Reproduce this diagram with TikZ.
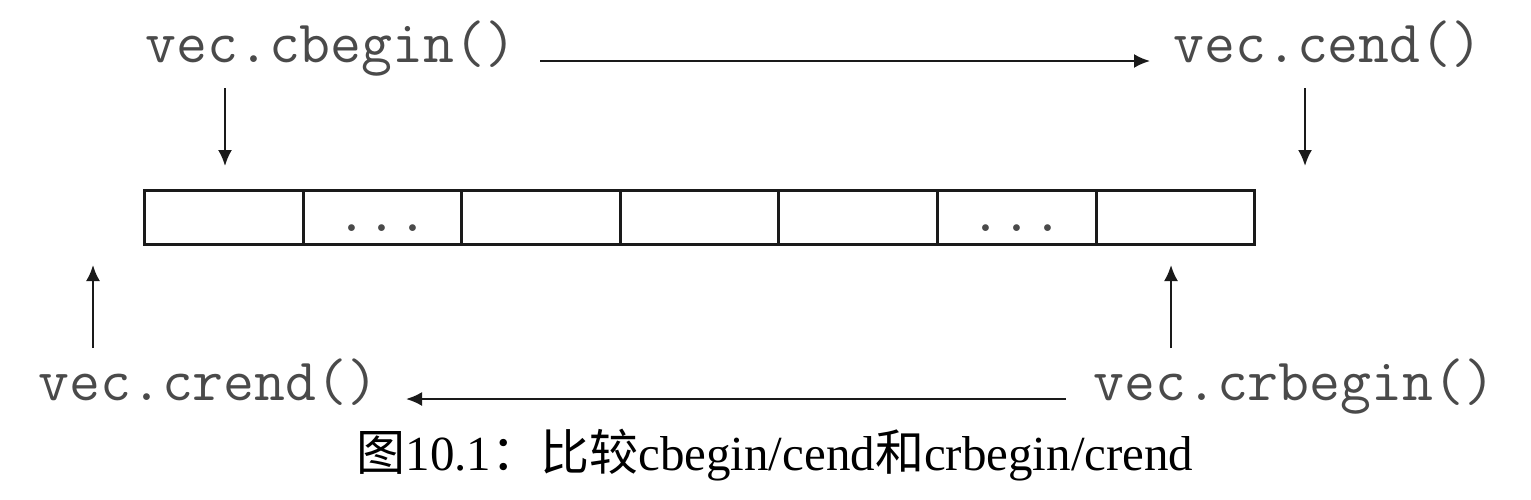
\documentclass[tikz,border=0pt]{standalone}
\usepackage{fontspec}
\setmainfont{Liberation Serif}
\newfontfamily\monof{Latin Modern Mono}
\newfontfamily\cjk{Noto Sans CJK SC}
\usetikzlibrary{arrows.meta}
\definecolor{txtgray}{HTML}{4A4A4A}
\definecolor{linek}{HTML}{1A1A1A}
\begin{document}
\begin{tikzpicture}[x=0.5pt,y=-0.5pt,
  code/.style={font=\monof\fontsize{30pt}{33pt}\selectfont, text=txtgray, inner sep=0pt, anchor=base west},
  cell/.style={draw=linek, line width=1.5pt, minimum width=79.3pt, minimum height=27pt, inner sep=0pt, anchor=north west},
  ptr/.style={draw=linek, line width=1.1pt, -{Latex[length=8pt,width=7pt]}},
  captext/.style={font=\fontsize{24.5pt}{28pt}\selectfont, inner sep=0pt, anchor=base}]
\useasboundingbox (0,0) rectangle (1531,499);
% cells
\foreach \i/\x in {1/143,2/301.6,3/460.2,4/618.8,5/777.4,6/936,7/1094.6}{
  \node[cell] (c\i) at (\x,189) {};
}
\foreach \i in {2,6}{
  \node[code, anchor=base] (d\i) at ([yshift=-7pt]c\i.center) {...};
}
% labels
\node[code] (cb) at (145,62) {vec.cbegin()};
\node[code] (ce) at (1173,62) {vec.cend()};
\node[code] (cre) at (38,400) {vec.crend()};
\node[code] (crb) at (1093,400) {vec.crbegin()};
% arrows
\coordinate (a1s) at (225,88); \coordinate (a1e) at (225,166);
\coordinate (a2s) at (1305,88); \coordinate (a2e) at (1305,166);
\coordinate (a3s) at (93,348); \coordinate (a3e) at (93,265);
\coordinate (a4s) at (1171,348); \coordinate (a4e) at (1171,265);
\coordinate (h1s) at (540,61); \coordinate (h1e) at (1150,61);
\coordinate (h2s) at (1066,399); \coordinate (h2e) at (406,399);
\draw[ptr] (a1s) -- (a1e);
\draw[ptr] (a2s) -- (a2e);
\draw[ptr] (a3s) -- (a3e);
\draw[ptr] (a4s) -- (a4e);
\draw[ptr] (h1s) -- (h1e);
\draw[ptr] (h2s) -- (h2e);
% caption
\node[captext] (caption) at (775,470) {{\cjk 图}10.1{\cjk ：比较}cbegin/cend{\cjk 和}crbegin/crend};
\end{tikzpicture}
\end{document}
